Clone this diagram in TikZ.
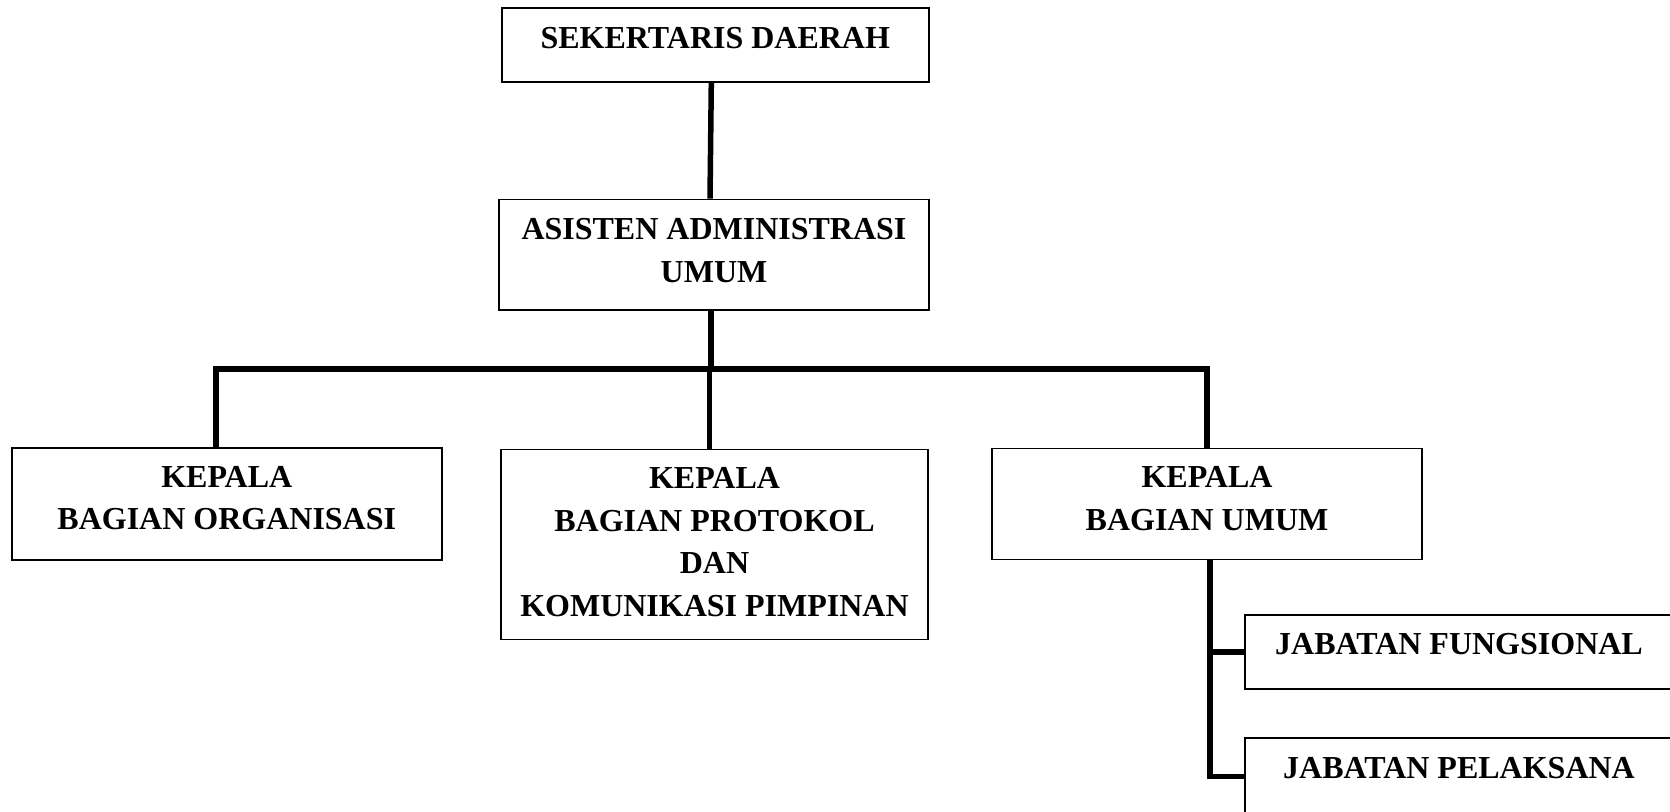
\documentclass[tikz,border=0pt]{standalone}
\usepackage{fontspec}
\setmainfont{Liberation Serif}
\usetikzlibrary{positioning}

\begin{document}
\begin{tikzpicture}[x=1pt, y=-1pt,
  box/.style={draw, line width=1.6pt, inner sep=0pt},
  lbl/.style={inner sep=0pt, align=center, font=\fontsize{32}{42.5}\selectfont\bfseries},
  link/.style={line width=5.5pt}]
\useasboundingbox (0,0) rectangle (1670,811);
\node at (715.3,44.7) [box, minimum width=427pt, minimum height=74pt] (sek) {};
\node [lbl, below=20pt of sek.north] (sektxt) {SEKERTARIS DAERAH};
\node at (714,254.7) [box, minimum width=430pt, minimum height=110.7pt] (asis) {};
\node [lbl, below=20pt of asis.north] (asistxt) {ASISTEN ADMINISTRASI\\UMUM};
\node at (226.8,503.8) [box, minimum width=430pt, minimum height=112pt] (org) {};
\node [lbl, below=19pt of org.north] (orgtxt) {KEPALA\\BAGIAN ORGANISASI};
\node at (714.5,544.3) [box, minimum width=427pt, minimum height=190pt] (prot) {};
\node [lbl, below=19pt of prot.north] (prottxt) {KEPALA\\BAGIAN PROTOKOL\\DAN\\KOMUNIKASI PIMPINAN};
\node at (1207,503.8) [box, minimum width=429.5pt, minimum height=111pt] (umum) {};
\node [lbl, below=19pt of umum.north] (umumtxt) {KEPALA\\BAGIAN UMUM};
\node at (1459,652) [box, minimum width=428pt, minimum height=74pt] (fung) {};
\node [lbl, below=19pt of fung.north] (fungtxt) {JABATAN FUNGSIONAL};
\node at (1459,776.7) [box, minimum width=428pt, minimum height=78pt] (pel) {};
\node [lbl, below=20pt of pel.north] (peltxt) {JABATAN PELAKSANA};
\coordinate (bus) at (711,369);
\draw [link] ([xshift=-4pt]sek.south) -- ([xshift=-4pt]asis.north);
\draw [link] ([xshift=-3pt]asis.south) -- (bus);
\draw [link] ([xshift=-11pt]org.north) |- (bus) -| (umum.north);
\draw [link] ([xshift=-5pt]prot.north) -- ([xshift=-5pt]prot.north |- bus);
\draw [link] ([xshift=3pt]umum.south) |- (fung.west);
\draw [link] ([xshift=3pt]umum.south) |- (pel.west);
\end{tikzpicture}
\end{document}
